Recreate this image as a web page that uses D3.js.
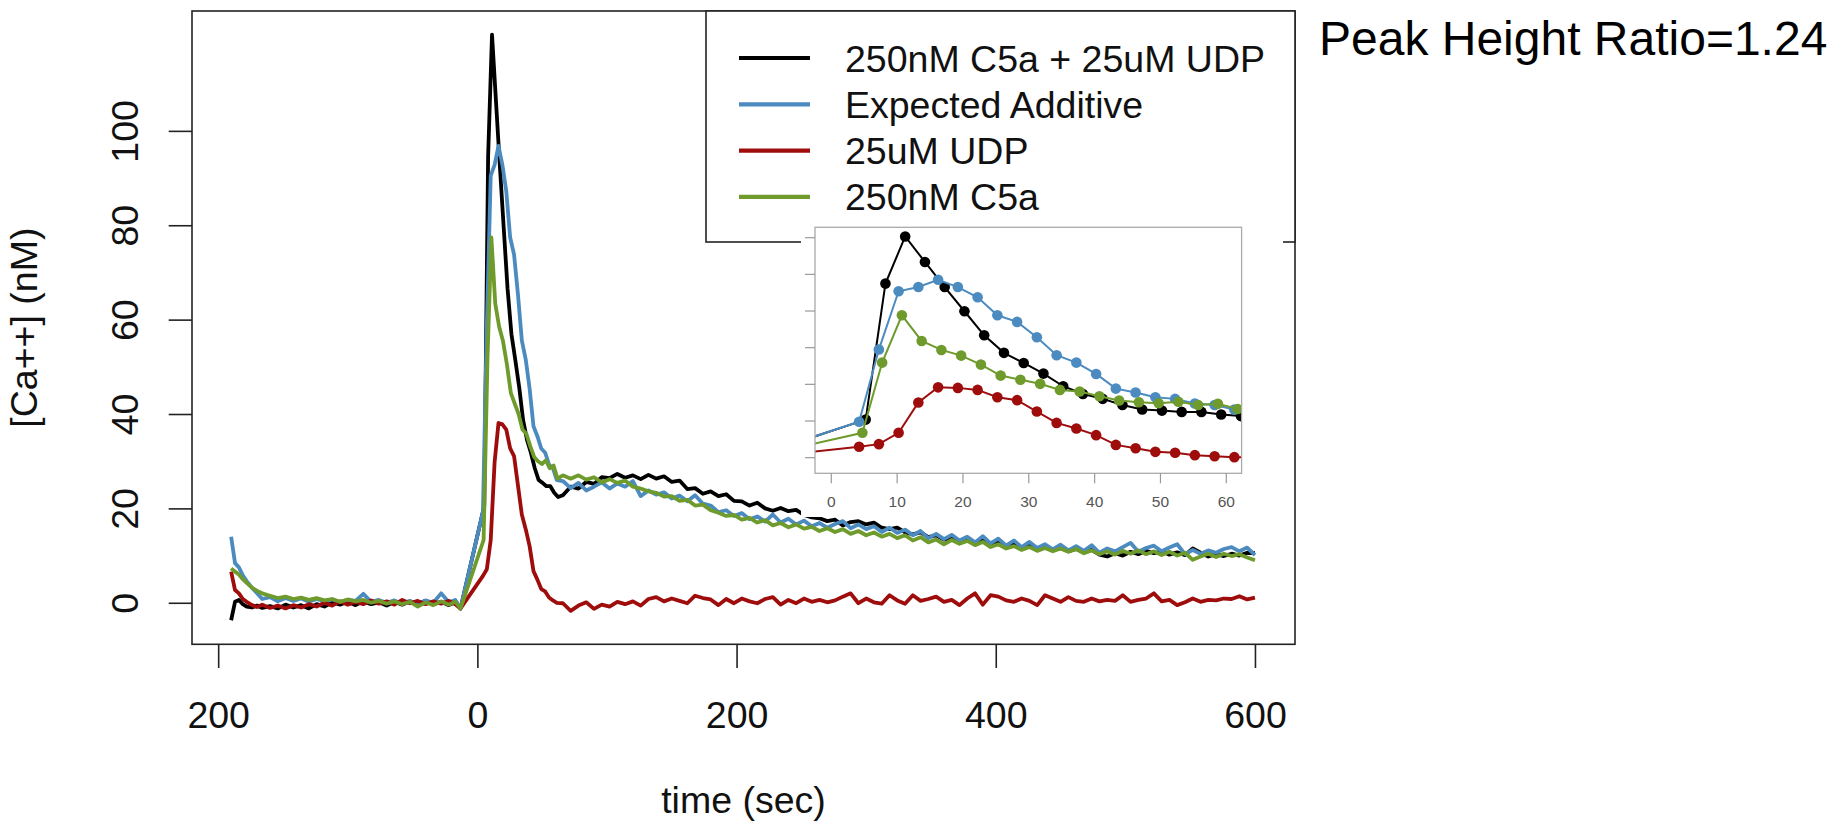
<!DOCTYPE html>
<html>
<head>
<meta charset="utf-8">
<script src="https://cdn.jsdelivr.net/npm/d3@7"></script>
<style>
  html, body { margin: 0; padding: 0; background: #fff; }
  svg { display: block; }
  text { font-family: "Liberation Sans", Arial, sans-serif; }
</style>
</head>
<body>
<script>
// ---- data ----
const seriesNames = ["250nM C5a + 25uM UDP", "Expected Additive", "25uM UDP", "250nM C5a"];
const seriesColors = ["#000000", "#4b8bc0", "#9e0c0c", "#6e9b2c"];

// baseline before stimulation (sec)
const preTimes = [-190, -187, -184, -181, -178, -174, -170, -166, -160, -154, -148, -142, -136, -130, -124, -118, -112,
  -106, -100, -94, -88, -82, -76, -70, -64, -58, -52, -46, -40, -34, -28, -22, -17, -13];

const blackPre = [-3.7, 0.2, 0.6, -0.3, -0.8, -1.0, -0.6, -1.1, -0.7, -1.2, -0.4, -1.0, -0.5, -1.2, -0.3, -0.8, 0.1,
  -0.4, 0.2, -0.5, 0.3, -0.3, 0.1, -0.6, 0.2, -0.4, 0.3, -0.2, 0.4, -0.3, 0.2, -0.5, 0.1, -1.2];
const bluePre = [14.0, 8.4, 7.5, 5.8, 4.6, 3.2, 2.0, 0.8, 1.2, 0.3, 1.0, 0.4, 0.9, 0.2, 0.8, 0.3, 0.7,
  0.1, 0.6, 0.4, 1.9, 0.2, 0.6, 0.0, 0.5, -0.2, 0.4, -0.3, 0.5, 0.0, 2.0, 0.1, 0.6, -1.2];
const redPre = [6.6, 2.7, 2.0, 0.8, 0.2, -0.5, -0.9, -0.4, -1.1, -0.6, -1.2, -0.5, -1.0, -0.3, -0.8, 0.0, -0.6,
  0.3, -0.4, 0.2, -0.3, 0.5, -0.2, 0.3, -0.4, 0.6, -0.1, 0.4, -0.3, 0.3, -0.2, 0.4, -0.3, -1.2];
const greenPre = [7.3, 6.6, 6.0, 5.0, 4.2, 3.2, 2.5, 2.0, 1.5, 1.0, 1.3, 0.8, 1.1, 0.6, 1.0, 0.5, 0.8,
  0.2, 0.7, 0.3, 0.6, 0.0, 0.4, -0.2, 0.3, -0.3, 0.2, -0.8, 0.1, -0.5, 0.3, -0.4, 0.2, -1.2];

// first minute after stimulation (the points in the inset)
const blackPeakTimes = [5.3, 8.3, 11.3, 14.3, 17.3, 20.3, 23.3, 26.3, 29.3, 32.3, 35.3, 38.3, 41.3, 44.3, 47.3, 50.3, 53.3, 56.3, 59.3, 62.3];
const blackPeak = [20.5, 94.7, 120.4, 106.5, 92.8, 79.6, 66.5, 56.9, 51.4, 45.6, 38.7, 34.5, 31.8, 28.5, 26.0, 25.4, 24.7, 24.7, 23.3, 22.4];
const bluePeakTimes = [4.3, 7.3, 10.3, 13.3, 16.3, 19.3, 22.3, 25.3, 28.3, 31.3, 34.3, 37.3, 40.3, 43.3, 46.3, 49.3, 52.3, 55.3, 58.3, 61.3];
const bluePeak = [19.3, 58.7, 90.5, 92.8, 96.8, 92.8, 87.2, 77.4, 73.8, 65.4, 55.6, 51.6, 45.4, 37.4, 35.3, 32.7, 31.8, 29.3, 28.5, 26.0];
const redPeakTimes = [4.3, 7.3, 10.3, 13.3, 16.3, 19.3, 22.3, 25.3, 28.3, 31.3, 34.3, 37.3, 40.3, 43.3, 46.3, 49.3, 52.3, 55.3, 58.3, 61.3];
const redPeak = [5.7, 7.1, 13.3, 29.8, 38.1, 37.8, 36.7, 32.7, 31.1, 24.9, 18.7, 15.6, 12.0, 6.7, 4.9, 2.9, 2.4, 1.1, 0.5, 0.0];
const greenPeakTimes = [4.8, 7.8, 10.8, 13.8, 16.8, 19.8, 22.8, 25.8, 28.8, 31.8, 34.8, 37.8, 40.8, 43.8, 46.8, 49.8, 52.8, 55.8, 58.8, 61.8];
const greenPeak = [13.3, 51.6, 77.4, 63.4, 58.5, 55.4, 50.5, 44.5, 42.2, 40.0, 36.7, 35.8, 33.2, 30.9, 30.0, 29.4, 30.2, 28.5, 29.1, 26.3];

// slow decay
const tailTimes = [66, 72, 78, 84, 90, 96, 102, 108, 114, 120,
  126, 132, 138, 144, 150, 156, 162, 168, 174, 180,
  186, 192, 198, 204, 210, 216, 222, 228, 234, 240,
  246, 252, 258, 264, 270, 276, 282, 288, 294, 300,
  306, 312, 318, 324, 330, 336, 342, 348, 354, 360,
  366, 372, 378, 384, 390, 396, 402, 408, 414, 420,
  426, 432, 438, 444, 450, 456, 462, 468, 474, 480,
  486, 492, 498, 504, 510, 516, 522, 528, 534, 540,
  546, 552, 558, 564, 570, 576, 582, 588, 594, 600];

const blackTail = [22.8, 24.6, 24.2, 25.6, 25.2, 26.6, 26.4, 27.3, 26.5, 27.0,
  26.2, 27.1, 26.3, 26.8, 25.6, 25.9, 24.1, 24.3, 23.1, 23.6,
  22.6, 23.0, 21.6, 21.5, 20.6, 21.2, 20.0, 19.5, 20.1, 19.4,
  19.7, 18.6, 18.1, 17.9, 17.3, 17.6, 16.4, 17.1, 17.3, 16.6,
  17.0, 15.9, 15.6, 15.9, 14.9, 14.5, 14.9, 13.9, 14.3, 13.4,
  13.6, 12.9, 13.4, 12.8, 13.2, 12.4, 12.9, 12.0, 12.5, 11.7,
  12.1, 11.4, 12.0, 11.2, 11.6, 10.9, 11.4, 10.7, 11.2, 10.2,
  9.8, 10.5, 10.0, 10.8, 10.3, 11.0, 10.5, 10.9, 10.2, 10.7,
  10.1, 11.5, 10.6, 9.8, 10.3, 9.9, 10.4, 10.0, 10.6, 10.5];
const blueTail = [25.8, 24.3, 25.4, 23.8, 24.6, 25.5, 24.2, 25.3, 24.6, 25.8,
  22.6, 23.8, 22.9, 23.4, 22.1, 22.7, 21.5, 22.8, 21.0, 20.6,
  19.2, 19.6, 18.4, 19.0, 17.7, 18.3, 17.2, 18.7, 17.0, 17.8,
  16.6, 17.4, 16.2, 16.9, 15.9, 16.7, 17.3, 15.8, 16.6, 15.6,
  16.2, 15.0, 15.9, 14.8, 15.5, 14.3, 15.2, 13.7, 14.6, 13.5,
  14.4, 13.2, 14.0, 12.8, 14.1, 12.6, 13.6, 12.1, 13.2, 11.8,
  12.9, 11.6, 12.4, 11.3, 12.3, 11.1, 12.0, 11.0, 12.2, 10.6,
  11.5, 10.9, 11.8, 12.7, 10.8, 11.6, 12.1, 10.9, 11.7, 12.4,
  10.3, 11.2, 10.4, 11.1, 10.6, 11.4, 11.8, 10.9, 11.7, 10.1];
const redTail = [-0.1, -1.7, -0.6, 0.1, -1.3, -0.4, -0.8, 0.2, -0.3, 0.3,
  -0.6, 0.8, 1.2, 0.3, 0.9, 0.4, -0.1, 1.5, 1.0, 0.7,
  -0.5, 0.8, -0.1, 0.9, 0.3, -0.1, 0.8, 1.2, -0.4, 0.6,
  -0.1, 0.9, 0.2, 0.6, 0.1, 0.5, 1.3, 2.0, -0.1, 0.9,
  0.1, -0.2, 1.6, 0.5, -0.2, 1.6, 0.4, 0.8, 1.3, 0.2,
  0.6, -0.5, 0.9, 2.0, -0.4, 1.6, 1.3, 0.5, 0.2, 0.9,
  0.4, -0.5, 1.6, 0.9, 0.2, 1.2, 0.4, 0.2, 0.9, 0.3,
  0.6, 0.4, 1.6, 0.2, 0.6, 0.9, 2.0, 0.3, 0.6, -0.5,
  0.1, 0.9, 0.2, 0.6, 0.5, 0.9, 0.8, 1.4, 0.7, 1.1];
const greenTail = [27.0, 26.3, 27.0, 26.1, 26.6, 25.5, 26.2, 25.4, 25.9, 24.6,
  24.2, 23.6, 23.3, 22.5, 22.6, 21.6, 21.8, 20.6, 20.8, 19.6,
  19.1, 18.4, 18.6, 17.6, 18.0, 17.0, 17.5, 16.4, 16.9, 16.0,
  16.6, 15.7, 16.1, 15.2, 15.8, 15.0, 15.6, 14.6, 15.2, 14.3,
  14.9, 14.0, 14.6, 13.7, 14.3, 13.2, 13.9, 12.8, 13.4, 12.4,
  13.3, 12.5, 13.1, 12.2, 12.9, 11.8, 12.4, 11.5, 12.0, 11.2,
  11.8, 11.0, 11.6, 10.9, 11.5, 10.8, 11.4, 10.5, 11.1, 10.3,
  10.9, 10.2, 11.0, 10.4, 11.1, 10.3, 10.9, 10.1, 10.8, 10.0,
  10.6, 9.1, 9.8, 10.4, 9.7, 10.4, 9.9, 10.3, 9.6, 9.0];

const xTicks = [-200, 0, 200, 400, 600];
const xTickLabels = ["200", "0", "200", "400", "600"];
const yTicks = [0, 20, 40, 60, 80, 100];
const insetXTicks = [0, 10, 20, 30, 40, 50, 60];
const insetYTicks = [0, 20, 40, 60, 80, 100, 120];
const peakRatioLabel = "Peak Height Ratio=1.24";

// ---- assemble series ----
const parts = [
  [blackPre, blackPeakTimes, blackPeak, blackTail],
  [bluePre, bluePeakTimes, bluePeak, blueTail],
  [redPre, redPeakTimes, redPeak, redTail],
  [greenPre, greenPeakTimes, greenPeak, greenTail]
];
const series = parts.map(([pre, pkT, pk, tail], i) => ({
  name: seriesNames[i],
  color: seriesColors[i],
  points: preTimes.map((t, j) => [t, pre[j]])
    .concat(pkT.map((t, j) => [t, pk[j]]))
    .concat(tailTimes.map((t, j) => [t, tail[j]])),
  peakPoints: pkT.map((t, j) => [t, pk[j]])
}));

const W = 1840, H = 825;
const FONT = 37.5;
const svg = d3.select("body").append("svg").attr("width", W).attr("height", H);

// main plot region
const box = { left: 192, right: 1295, top: 11, bottom: 644.3 };
const x = d3.scaleLinear().domain([-220.2, 630.9]).range([box.left, box.right]);
const y = d3.scaleLinear().domain([-8.8, 125.4]).range([box.bottom, box.top]);

svg.append("clipPath").attr("id", "mainclip").append("rect")
  .attr("x", box.left).attr("y", box.top)
  .attr("width", box.right - box.left).attr("height", box.bottom - box.top);

const line = d3.line().x(d => x(d[0])).y(d => y(d[1]));
svg.append("g").attr("clip-path", "url(#mainclip)")
  .selectAll("path").data(series).join("path")
  .attr("d", d => line(d.points))
  .attr("fill", "none")
  .attr("stroke", d => d.color)
  .attr("stroke-width", 3.8)
  .attr("stroke-linejoin", "round");

svg.append("rect")
  .attr("x", box.left).attr("y", box.top)
  .attr("width", box.right - box.left).attr("height", box.bottom - box.top)
  .attr("fill", "none").attr("stroke", "#222").attr("stroke-width", 1.6);

// x axis
svg.append("g")
  .attr("transform", `translate(0,${box.bottom})`)
  .call(d3.axisBottom(x).tickValues(xTicks).tickSize(23.7).tickSizeOuter(0)
    .tickFormat((d, i) => xTickLabels[i]))
  .call(g => g.select(".domain").remove())
  .call(g => g.selectAll("line").attr("stroke", "#222").attr("stroke-width", 1.6))
  .call(g => g.selectAll("text")
    .attr("y", 728 - box.bottom).attr("dy", null)
    .attr("fill", "#111").attr("font-size", FONT)
    .attr("font-family", "Liberation Sans, Arial, sans-serif"));

// y axis, labels parallel to the axis
svg.append("g")
  .attr("transform", `translate(${box.left},0)`)
  .call(d3.axisLeft(y).tickValues(yTicks).tickSize(23.3).tickSizeOuter(0))
  .call(g => g.select(".domain").remove())
  .call(g => g.selectAll("line").attr("stroke", "#222").attr("stroke-width", 1.6))
  .call(g => g.selectAll("text")
    .attr("x", null).attr("dy", null)
    .attr("transform", `translate(${138.4 - box.left},0) rotate(-90)`)
    .attr("text-anchor", "middle")
    .attr("fill", "#111").attr("font-size", FONT)
    .attr("font-family", "Liberation Sans, Arial, sans-serif"));

// axis titles
svg.append("text")
  .attr("transform", `translate(36.5,${(box.top + box.bottom) / 2}) rotate(-90)`)
  .attr("text-anchor", "middle").attr("font-size", FONT).attr("fill", "#111")
  .text("[Ca++] (nM)");
svg.append("text")
  .attr("x", (box.left + box.right) / 2).attr("y", 813)
  .attr("text-anchor", "middle").attr("font-size", FONT).attr("fill", "#111")
  .text("time (sec)");

// legend, top right
const legend = svg.append("g");
legend.append("rect")
  .attr("x", 706).attr("y", box.top).attr("width", box.right - 706).attr("height", 242 - box.top)
  .attr("fill", "#fff").attr("stroke", "#222").attr("stroke-width", 1.6);
const rows = legend.selectAll("g.row").data(series).join("g")
  .attr("class", "row")
  .attr("transform", (d, i) => `translate(0,${58 + i * 46.3})`);
rows.append("line")
  .attr("x1", 739).attr("x2", 810)
  .attr("stroke", d => d.color).attr("stroke-width", 4.2);
rows.append("text")
  .attr("x", 845).attr("y", 13.5)
  .attr("font-size", FONT).attr("fill", "#111")
  .text(d => d.name);

// inset: zoom on the first minute
const ibox = { left: 815, right: 1241.6, top: 227.3, bottom: 473.3 };
const xi = d3.scaleLinear().domain([-2.4, 62.4]).range([ibox.left, ibox.right]);
const yi = d3.scaleLinear().domain([-8.8, 125.4]).range([ibox.bottom, ibox.top]);
const inset = svg.append("g");
inset.append("rect")
  .attr("x", 801).attr("y", 224).attr("width", 1283 - 801).attr("height", 517 - 224)
  .attr("fill", "#fff");

svg.append("clipPath").attr("id", "insetclip").append("rect")
  .attr("x", ibox.left).attr("y", ibox.top)
  .attr("width", ibox.right - ibox.left).attr("height", ibox.bottom - ibox.top);

const iline = d3.line().x(d => xi(d[0])).y(d => yi(d[1]));
const iseries = inset.append("g").attr("clip-path", "url(#insetclip)")
  .selectAll("g").data(series).join("g");
iseries.append("path")
  .attr("d", d => iline(d.points))
  .attr("fill", "none").attr("stroke", d => d.color).attr("stroke-width", 2);
iseries.selectAll("circle").data(d => d.peakPoints.map(p => ({ p, color: d.color }))).join("circle")
  .attr("cx", d => xi(d.p[0])).attr("cy", d => yi(d.p[1])).attr("r", 5.3)
  .attr("fill", d => d.color);

inset.append("rect")
  .attr("x", ibox.left).attr("y", ibox.top)
  .attr("width", ibox.right - ibox.left).attr("height", ibox.bottom - ibox.top)
  .attr("fill", "none").attr("stroke", "#aaa").attr("stroke-width", 1.3);

inset.append("g")
  .attr("transform", `translate(0,${ibox.bottom})`)
  .call(d3.axisBottom(xi).tickValues(insetXTicks).tickSize(10).tickSizeOuter(0))
  .call(g => g.select(".domain").remove())
  .call(g => g.selectAll("line").attr("stroke", "#999").attr("stroke-width", 1.2))
  .call(g => g.selectAll("text")
    .attr("y", 506.7 - ibox.bottom).attr("dy", null)
    .attr("fill", "#555").attr("font-size", 15.5)
    .attr("font-family", "Liberation Sans, Arial, sans-serif"));

inset.append("g")
  .attr("transform", `translate(${ibox.left},0)`)
  .call(d3.axisLeft(yi).tickValues(insetYTicks).tickSize(10).tickSizeOuter(0).tickFormat(""))
  .call(g => g.select(".domain").remove())
  .call(g => g.selectAll("line").attr("stroke", "#999").attr("stroke-width", 1.2));

// annotation at the right
svg.append("text")
  .attr("x", 1319).attr("y", 55)
  .attr("font-size", 48).attr("fill", "#000")
  .text(peakRatioLabel);
</script>
</body>
</html>
